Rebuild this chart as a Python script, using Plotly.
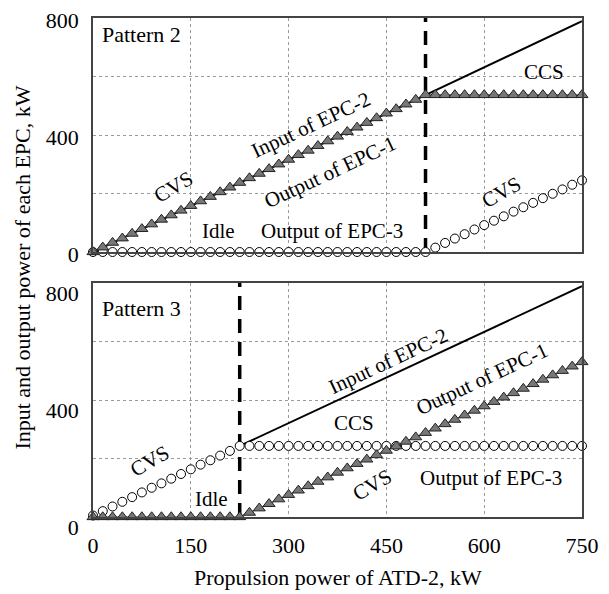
import plotly.graph_objects as go

# ---------------- data ----------------
x_kw = [0, 15, 30, 45, 60, 75, 90, 105, 120, 135, 150, 165, 180, 195, 210, 225,
        240, 255, 270, 285, 300, 315, 330, 345, 360, 375, 390, 405, 420, 435, 450,
        465, 480, 495, 510, 525, 540, 555, 570, 585, 600, 615, 630, 645, 660, 675,
        690, 705, 720, 735, 750]

# Pattern 2
p2_out_epc1 = [0, 16, 32, 47, 63, 79, 95, 111, 126, 142, 158, 174, 189, 205, 221, 237,
               253, 268, 284, 300, 316, 332, 347, 363, 379, 395, 411, 426, 442, 458, 474,
               489, 505, 521, 537, 537, 537, 537, 537, 537, 537, 537, 537, 537, 537, 537,
               537, 537, 537, 537, 537]
p2_out_epc3 = [0, 0, 0, 0, 0, 0, 0, 0, 0, 0, 0, 0, 0, 0, 0, 0,
               0, 0, 0, 0, 0, 0, 0, 0, 0, 0, 0, 0, 0, 0, 0,
               0, 0, 0, 0, 15, 31, 46, 61, 77, 92, 107, 122, 138, 153, 168,
               184, 199, 214, 230, 245]
p2_in_epc2_x = [0, 750]
p2_in_epc2 = [0, 789]
p2_switch = 510

# Pattern 3
p3_out_epc1 = [0, 0, 0, 0, 0, 0, 0, 0, 0, 0, 0, 0, 0, 0, 0, 0,
               15, 30, 45, 61, 76, 91, 106, 121, 136, 152, 167, 182, 197, 212, 227,
               242, 258, 273, 288, 303, 318, 333, 348, 364, 379, 394, 409, 424, 439, 455,
               470, 485, 500, 515, 530]
p3_out_epc3 = [5, 20, 36, 52, 68, 84, 100, 115, 131, 147, 163, 179, 194, 210, 226, 243,
               243, 243, 243, 243, 243, 243, 243, 243, 243, 243, 243, 243, 243, 243, 243,
               243, 243, 243, 243, 243, 243, 243, 243, 243, 243, 243, 243, 243, 243, 243,
               243, 243, 243, 243, 243]
p3_in_epc2_x = [225, 750]
p3_in_epc2 = [243, 789]
p3_switch = 225

x_ticks = [0, 150, 300, 450, 600, 750]
y_ticks = [0, 400, 800]
y_minor = [200, 600]

FONT = "Liberation Serif"

fig = go.Figure()


def add_panel(xa, ya, in_x, in_y, out1, out3, switch):
    fig.add_trace(go.Scatter(x=[switch, switch], y=[0, 800], mode="lines",
                             line=dict(color="black", width=3.5, dash="14px,9px"),
                             xaxis=xa, yaxis=ya, showlegend=False, cliponaxis=False))
    fig.add_trace(go.Scatter(x=in_x, y=in_y, mode="lines",
                             line=dict(color="black", width=2),
                             xaxis=xa, yaxis=ya, showlegend=False))
    fig.add_trace(go.Scatter(x=x_kw, y=out3, mode="markers",
                             marker=dict(symbol="circle", size=9, color="white",
                                         line=dict(color="black", width=1)),
                             xaxis=xa, yaxis=ya, showlegend=False, cliponaxis=False))
    fig.add_trace(go.Scatter(x=x_kw, y=out1, mode="lines+markers",
                             line=dict(color="#333333", width=1),
                             marker=dict(symbol="triangle-up", size=10.5, color="#777777",
                                         line=dict(color="#222222", width=1)),
                             xaxis=xa, yaxis=ya, showlegend=False, cliponaxis=False))


add_panel("x", "y", p2_in_epc2_x, p2_in_epc2, p2_out_epc1, p2_out_epc3, p2_switch)
add_panel("x2", "y2", p3_in_epc2_x, p3_in_epc2, p3_out_epc1, p3_out_epc3, p3_switch)

axis_common = dict(showline=True, mirror=True, linecolor="#444444", linewidth=1.5,
                   showgrid=True, gridcolor="#9a9a9a", griddash="dot", gridwidth=1,
                   zeroline=False, ticks="", automargin=False,
                   tickfont=dict(family=FONT, size=22, color="black"))

top_dom = [(517 - 252) / 499, 1.0]
bot_dom = [0.0, (517 - 283) / 499]

fig.update_layout(
    width=609, height=594,
    margin=dict(l=93, r=27, t=18, b=77),
    paper_bgcolor="white", plot_bgcolor="white",
    font=dict(family=FONT, color="black"),
    xaxis=dict(axis_common, range=[0, 750], tickvals=x_ticks, showticklabels=False,
               anchor="y", domain=[0, 1]),
    yaxis=dict(axis_common, range=[0, 800], tickvals=y_ticks, domain=top_dom,
               anchor="x", ticklabelstandoff=8, ticklabelshift=2,
               minor=dict(tickvals=y_minor, showgrid=True, gridcolor="#9a9a9a",
                          griddash="dot", ticks="")),
    xaxis2=dict(axis_common, range=[0, 750], tickvals=x_ticks, anchor="y2",
                domain=[0, 1], ticklabelstandoff=8),
    yaxis2=dict(axis_common, range=[0, 800], tickvals=y_ticks, domain=bot_dom,
                anchor="x2", ticklabelstandoff=8, ticklabelshift=10,
                minor=dict(tickvals=y_minor, showgrid=True, gridcolor="#9a9a9a",
                           griddash="dot", ticks="")),
)


def txt(xref, yref, x, y, text, angle=0, xanchor="center", size=21):
    fig.add_annotation(x=x, y=y, xref=xref, yref=yref, text=text, showarrow=False,
                       textangle=angle, xanchor=xanchor, yanchor="middle",
                       font=dict(family=FONT, size=size, color="black"))


# Pattern 2 labels
txt("x", "y", 10, 745, "Pattern 2", xanchor="left", size=22)
txt("x", "y", 123, 223, "CVS", angle=-30)
txt("x", "y", 334, 433, "Input of EPC-2", angle=-25)
txt("x", "y", 364, 273, "Output of EPC-1", angle=-25)
txt("x", "y", 192, 72, "Idle")
txt("x", "y", 367, 72, "Output of EPC-3")
txt("x", "y", 692, 617, "CCS")
txt("x", "y", 627, 204, "CVS", angle=-30)

# Pattern 3 labels
txt("x2", "y2", 10, 712, "Pattern 3", xanchor="left", size=22)
txt("x2", "y2", 87, 193, "CVS", angle=-30)
txt("x2", "y2", 182, 60, "Idle")
txt("x2", "y2", 453, 533, "Input of EPC-2", angle=-25)
txt("x2", "y2", 597, 471, "Output of EPC-1", angle=-25)
txt("x2", "y2", 400, 321, "CCS")
txt("x2", "y2", 428, 108, "CVS", angle=-30)
txt("x2", "y2", 610, 133, "Output of EPC-3")

# axis titles
txt("paper", "paper", -0.145, 0.5, "Input and output power of each EPC, kW", angle=-90, size=22)
txt("paper", "paper", 0.5, -0.122, "Propulsion power of ATD-2, kW", size=22)

fig.write_html("out.html", config={"displayModeBar": False},
               post_script="document.body.style.margin='0px';")
